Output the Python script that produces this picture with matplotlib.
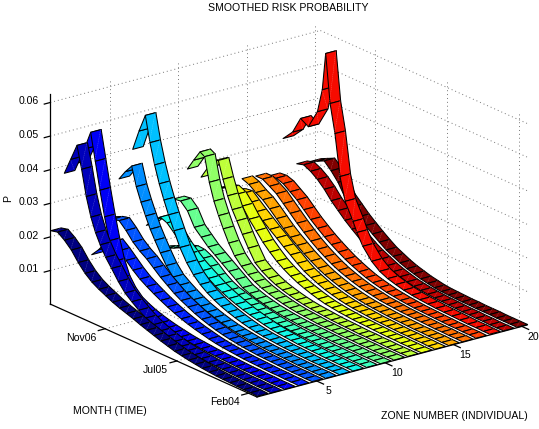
import numpy as np
import matplotlib
matplotlib.use('Agg')
from matplotlib import pyplot as plt
from mpl_toolkits.mplot3d import proj3d
from mpl_toolkits.mplot3d.art3d import Poly3DCollection

plt.rcParams['font.family'] = ['Liberation Sans', 'DejaVu Sans']

# months back from the far wall (0 = last month, 49 = front of the box)
weeks_low = np.linspace(0, 49, 31)
weeks_peak = [0, 1.5, 3, 4.1, 5.2, 6.3, 7.4, 8.5, 9.8, 11.2, 12.8, 14.4, 16, 17.65, 19.3, 20.95, 22.6,
              24.25, 25.9, 27.55, 29.2, 30.85, 32.5, 34.15, 35.8, 37.45, 39.1, 40.75, 42.4, 44.05,
              45.7, 47.35, 49]
weeks_red = [0, 2.26, 4.15, 6, 8.15, 9.3, 10.1, 11.15, 12.3, 13.5, 14.7, 16.6, 17.5, 18.9, 21, 22.9,
             24.8, 26.7, 28.6, 30.5, 32.4, 34.3, 36.2, 38.1, 40, 41.9, 43.8, 45.7, 47.5, 49]

zone01 = [2.2, 2.25, 2.1, 1.9, 1.62, 1.39, 1.22, 1.1, 1.0, .9, .82, .75, .68, .6, .53, .46, .39, .33, .27, .23,
          .19, .16, .13, .11, .09, .08, .07, .06, .05, .05, .04]
zone02 = [3.8, 4.3, 4.8, 4.15, 3.4, 2.85, 2.45, 2.15, 1.85, 1.6, 1.3, 1.05, .88, .72, .58, .47, .38, .31, .25, .2,
          .17, .14, .12, .1, .09, .08, .07, .06, .05, .05, .04, .04, .03]
zone03 = [4.0, 4.5, 5.08, 4.28, 3.48, 2.75, 2.1, 1.55, 1.12, .85, .65, .54, .45, .38, .32, .27, .23, .19, .16, .14,
          .12, .1, .09, .08, .07, .06, .05, .05, .04, .04, .03, .03, .03]
zone04 = [1.16, 1.4, 1.7, 1.82, 1.65, 1.45, 1.25, 1.08, .95, .83, .72, .62, .53, .45, .38, .32, .27, .22, .18, .15,
          .13, .11, .09, .08, .07, .06, .05, .05, .04, .04, .03]
zone05 = [2.1, 2.2, 2.25, 2.05, 1.8, 1.62, 1.48, 1.3, 1.12, .97, .82, .7, .6, .5, .42, .35, .29, .24, .2, .17,
          .14, .12, .1, .09, .08, .07, .06, .05, .05, .04, .04]
zone06 = [3.2, 3.5, 3.75, 3.2, 2.8, 2.45, 2.12, 1.85, 1.55, 1.25, 1.0, .85, .72, .6, .5, .42, .35, .29, .24, .2,
          .17, .14, .12, .1, .09, .08, .07, .06, .05, .05, .04, .04, .03]
zone07 = [3.97, 4.6, 5.15, 4.4, 3.8, 3.3, 2.88, 2.5, 2.1, 1.68, 1.32, 1.05, .85, .7, .58, .48, .4, .33, .27, .22,
          .18, .15, .13, .11, .09, .08, .07, .06, .05, .05, .04, .04, .03]
zone08 = [1.6, 1.85, 2.03, 1.95, 1.75, 1.5, 1.3, 1.12, .98, .85, .72, .62, .53, .45, .38, .32, .27, .22, .18, .15,
          .13, .11, .09, .08, .07, .06, .05, .05, .04, .04, .03]
zone09 = [.8, .9, 1.0, 1.1, 1.17, 1.15, 1.05, .9, .72, .58, .48, .42, .36, .3, .25, .21, .17, .14, .12, .1,
          .09, .08, .07, .06, .05, .05, .04, .04, .03, .03, .03]
zone10 = [2.17, 2.2, 2.0, 1.6, 1.4, 1.2, 1.05, .9, .75, .6, .45, .37, .3, .25, .2, .17, .14, .12, .1, .09,
          .08, .07, .06, .05, .05, .04, .04, .03, .03, .03, .03]
zone11 = [2.95, 3.3, 3.63, 3.55, 2.85, 2.35, 1.98, 1.65, 1.3, 1.0, .78, .62, .5, .4, .33, .27, .22, .18, .15, .13,
          .11, .09, .08, .07, .06, .05, .05, .04, .04, .03, .03, .03, .03]
zone12 = [2.6, 2.95, 3.25, 3.33, 2.83, 2.4, 2.05, 1.78, 1.45, 1.12, .78, .62, .5, .4, .33, .27, .22, .18, .15, .13,
          .11, .09, .08, .07, .06, .05, .05, .04, .04, .03, .03, .03, .03]
zone13 = [2.1, 2.28, 2.35, 2.25, 2.0, 1.7, 1.45, 1.2, 1.0, .82, .68, .56, .46, .38, .31, .25, .2, .17, .14, .12,
          .1, .09, .08, .07, .06, .05, .05, .04, .04, .03, .03]
zone14 = [1.95, 2.05, 2.08, 1.9, 1.72, 1.55, 1.38, 1.22, 1.05, .9, .74, .6, .5, .41, .33, .27, .22, .18, .15, .13,
          .11, .09, .08, .07, .06, .05, .05, .04, .04, .03, .03]
zone15 = [2.23, 2.15, 2.0, 1.88, 1.7, 1.5, 1.3, 1.13, .98, .83, .7, .58, .48, .4, .33, .27, .22, .18, .15, .13,
          .11, .09, .08, .07, .06, .05, .05, .04, .04, .03, .03]
zone16 = [2.2, 2.2, 2.08, 1.95, 1.75, 1.55, 1.35, 1.17, 1.0, .85, .72, .6, .5, .42, .35, .29, .24, .2, .16, .14,
          .12, .1, .09, .08, .07, .06, .05, .05, .04, .04, .03]
zone17 = [2.1, 2.12, 2.05, 1.9, 1.75, 1.55, 1.35, 1.18, 1.02, .88, .75, .63, .53, .44, .36, .3, .25, .2, .17, .14,
          .12, .1, .09, .08, .07, .06, .05, .05, .04, .04, .03]
zone18 = [3.1, 3.42, 3.93, 3.79, 4.36, 5.08, 6.2, 4.77, 3.94, 2.73, 2.06, 1.57, 1.29, .96, .63, .44, .33, .26, .2, .16,
          .13, .11, .09, .08, .07, .06, .05, .05, .04, .04]
zone19 = [2.24, 2.3, 2.2, 2.05, 1.85, 1.6, 1.4, 1.2, 1.03, .87, .72, .6, .5, .4, .32, .26, .2, .16, .13, .11,
          .09, .08, .07, .06, .05, .05, .04, .04, .03, .03, .03]
zone20 = [2.2, 2.3, 2.4, 2.2, 1.95, 1.6, 1.4, 1.2, 1.03, .87, .72, .58, .48, .38, .3, .24, .18, .14, .1, .08,
          .07, .06, .05, .05, .04, .04, .04, .03, .03, .03, .03]

zones = [zone01, zone02, zone03, zone04, zone05, zone06, zone07, zone08, zone09, zone10,
         zone11, zone12, zone13, zone14, zone15, zone16, zone17, zone18, zone19, zone20]

zone_ticks = [5, 10, 15, 20]
month_ticks = [2, 19, 36]
month_labels = ['Feb04', 'Jul05', 'Nov06']
p_ticks = [0.01, 0.02, 0.03, 0.04, 0.05, 0.06]

W, H = 539, 429
xmin, xmax = 0.625, 20.375
ymin, ymax = 0, 49
zmin, zmax = 0, 0.0625
FONT = 7.6
HALF_WIDTH = 0.385

fig = plt.figure(figsize=(W / 100, H / 100), dpi=100)
ax = fig.add_axes([0, 0, H / W, 1], projection='3d')
ax.set_proj_type('ortho')
ax.computed_zorder = False
ax.set_axis_off()
ax.view_init(elev=20.25, azim=-127.6)
ax.set_box_aspect((341, 339, 224))

colors = plt.cm.jet(np.linspace(0, 1, 20))

# ribbons, one cell at a time: far zones first, far months first inside a zone
for i, values in enumerate(zones):
    zone = i + 1
    months = {33: weeks_peak, 30: weeks_red}.get(len(values), weeks_low)
    y = ymax - np.asarray(months, dtype=float)
    z = np.asarray(values) * 0.01
    order = 10.0 + (19 - i)
    seam = colors[i][:3] * 0.65 + 0.35
    x0, x1 = zone - HALF_WIDTH, zone + HALF_WIDTH
    for j in range(len(z) - 1):
        quad = [(x0, y[j], z[j]), (x1, y[j], z[j]), (x1, y[j + 1], z[j + 1]), (x0, y[j + 1], z[j + 1])]
        poly = Poly3DCollection([quad], facecolors=colors[i], edgecolors='k', linewidths=0.75, zorder=order + j * 0.01)
        ax.add_collection3d(poly, autolim=False)
        ax.plot([x0, x1], [y[j + 1], y[j]], [z[j + 1], z[j]], color=seam, linewidth=0.3,
                linestyle=(0, (3, 1.5)), zorder=order + j * 0.01 + 0.001)

ax.set_xlim(xmin, xmax, view_margin=0)
ax.set_ylim(ymin, ymax, view_margin=0)
ax.set_zlim(zmin, zmax, view_margin=0)

# dotted grid on the two back walls and the floor
grid = dict(color='#777777', linestyle=(0, (1, 3)), linewidth=0.7, zorder=1)
for p in p_ticks:
    ax.plot([xmin, xmax], [ymax, ymax], [p, p], **grid)
    ax.plot([xmax, xmax], [ymin, ymax], [p, p], **grid)
for zone in zone_ticks:
    ax.plot([zone, zone], [ymax, ymax], [zmin, zmax], **grid)
    ax.plot([zone, zone], [ymin, ymax], [zmin, zmin], **grid)
for m in month_ticks:
    ax.plot([xmax, xmax], [m, m], [zmin, zmax], **grid)
    ax.plot([xmin, xmax], [m, m], [zmin, zmin], **grid)

# axis lines and ticks
line = dict(color='k', linewidth=0.9, zorder=60)
ax.plot([xmin, xmin], [ymax, ymax], [zmin, zmax], **line)
ax.plot([xmin, xmin], [ymin, ymax], [zmin, zmin], **line)
ax.plot([xmin, xmax], [ymin, ymin], [zmin, zmin], **line)
for p in p_ticks:
    ax.plot([xmin - 0.44, xmin], [ymax, ymax], [p, p], **line)
for zone in zone_ticks:
    ax.plot([zone, zone], [ymin - 1.6, ymin], [zmin, zmin], **line)
for m in month_ticks:
    ax.plot([xmin - 0.5, xmin], [m, m], [zmin, zmin], **line)


# fit the square axes so the floor corners land where they are in the reference
def to_pixels(x, y, z):
    px, py, _ = proj3d.proj_transform(x, y, z, ax.get_proj())
    return ax.transData.transform((px, py))


front = to_pixels(xmin, ymin, zmin)
right = to_pixels(xmax, ymin, zmin)
scale = 270 / (right[0] - front[0])
side = H * scale
ax.set_position([0, 0, side / W, side / H])
front = to_pixels(xmin, ymin, zmin)
ax.set_position([(257 - front[0]) / W, ((H - 397) - front[1]) / H, side / W, side / H])


def label_at(x, y, z, text, ha):
    px, py = to_pixels(x, y, z)
    fig.text(px / W, py / H, text, ha=ha, va='center', fontsize=FONT)


for p in p_ticks:
    label_at(xmin - 0.8, ymax, p + 0.0012, '%.2f' % p, 'right')
for zone in zone_ticks:
    label_at(zone, ymin - 2.8, -0.0015, str(zone), 'center')
for m, label in zip(month_ticks, month_labels):
    label_at(xmin - 0.66, m, -0.002, label, 'right')

fig.text(288 / W, 1 - 8 / H, 'SMOOTHED RISK PROBABILITY', ha='center', va='center', fontsize=FONT)
fig.text(8 / W, 1 - 198 / H, 'P', ha='center', va='center', rotation=90, fontsize=FONT)
fig.text(110 / W, 1 - 411 / H, 'MONTH (TIME)', ha='center', va='center', fontsize=FONT)
fig.text(454 / W, 1 - 416 / H, 'ZONE NUMBER (INDIVIDUAL)', ha='center', va='center', fontsize=FONT)

fig.savefig('out.png', dpi=100)
